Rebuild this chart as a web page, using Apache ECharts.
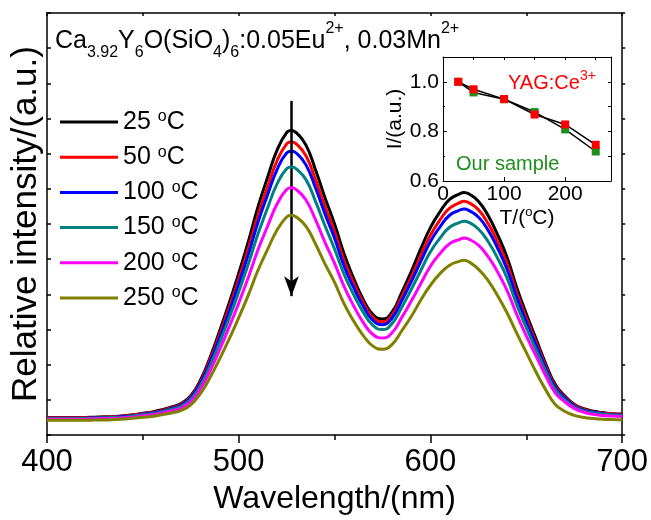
<!DOCTYPE html>
<html><head><meta charset="utf-8">
<script src="https://cdn.jsdelivr.net/npm/echarts@6/dist/echarts.min.js"></script>
<style>html,body{margin:0;padding:0;background:#fff}#c{width:651px;height:520px}</style>
</head><body><div id="c"></div>
<script>
// ---- data ----
const wavelength = [400,405,410,415,420,425,430,435,440,445,450,455,460,465,470,475,480,485,490,495,500,
  505,510,515,520,525,527.5,530,535,540,545,550,555,560,565,570,575,580,585,590,595,600,
  605,610,615,617.5,620,625,630,635,640,645,650,655,660,665,670,675,680,685,690,695,700];
const i25 = [0.50,0.50,0.50,0.50,0.50, 0.51,0.52,0.53,0.55,0.58,0.62,
  0.66,0.72,0.80,0.90,1.12,1.56,2.20,2.95,3.75,4.60,
  5.50,6.48,7.32,8.10,8.60,8.66,8.60,8.25,7.55,6.75,6.00,
  5.15,4.45,3.85,3.43,3.30,3.50,4.05,4.65,5.30,5.90,
  6.35,6.70,6.85,6.90,6.86,6.65,6.25,5.70,5.05,4.20,3.45,
  2.75,2.05,1.45,1.12,0.88,0.75,0.68,0.64,0.61,0.60];
const i50 = [0.49,0.49,0.49,0.49,0.49, 0.50,0.51,0.52,0.54,0.57,0.61,
  0.64,0.70,0.78,0.87,1.09,1.51,2.13,2.85,3.62,4.43,
  5.30,6.24,7.05,7.80,8.28,8.34,8.28,7.95,7.27,6.50,5.78,
  4.96,4.32,3.76,3.35,3.22,3.42,3.93,4.49,5.11,5.68,
  6.12,6.45,6.60,6.65,6.61,6.41,6.02,5.49,4.87,4.05,3.33,
  2.65,1.98,1.40,1.09,0.86,0.73,0.66,0.62,0.60,0.59];
const i100 = [0.48,0.48,0.48,0.48,0.48, 0.49,0.50,0.51,0.53,0.55,0.59,
  0.63,0.68,0.76,0.85,1.06,1.47,2.06,2.76,3.50,4.29,
  5.13,6.04,6.82,7.55,8.02,8.07,8.02,7.69,7.04,6.29,5.60,
  4.80,4.19,3.66,3.26,3.14,3.33,3.82,4.36,4.94,5.50,
  5.92,6.25,6.39,6.43,6.39,6.20,5.83,5.32,4.71,3.92,3.22,
  2.57,1.92,1.36,1.06,0.83,0.71,0.65,0.61,0.58,0.57];
const i150 = [0.47,0.47,0.47,0.47,0.47, 0.48,0.49,0.50,0.51,0.54,0.58,
  0.61,0.66,0.73,0.82,1.02,1.40,1.96,2.62,3.32,4.07,
  4.86,5.71,6.45,7.14,7.57,7.62,7.57,7.27,6.65,5.95,5.29,
  4.57,3.99,3.49,3.12,3.00,3.17,3.63,4.14,4.68,5.21,
  5.60,5.91,6.04,6.08,6.05,5.86,5.51,5.03,4.46,3.71,3.06,
  2.44,1.83,1.30,1.01,0.80,0.69,0.63,0.59,0.57,0.56];
const i200 = [0.45,0.45,0.45,0.45,0.45, 0.46,0.47,0.47,0.49,0.51,0.55,
  0.58,0.63,0.69,0.77,0.95,1.31,1.82,2.42,3.07,3.75,
  4.48,5.26,5.93,6.57,6.98,7.03,6.98,6.69,6.13,5.48,4.88,
  4.22,3.67,3.20,2.86,2.76,2.91,3.34,3.81,4.31,4.80,
  5.16,5.44,5.56,5.60,5.57,5.40,5.08,4.64,4.11,3.43,2.82,
  2.26,1.70,1.21,0.95,0.76,0.65,0.59,0.56,0.54,0.53];
const i250 = [0.42,0.42,0.42,0.42,0.42, 0.43,0.43,0.44,0.46,0.48,0.51,
  0.53,0.58,0.63,0.70,0.86,1.18,1.63,2.16,2.73,3.34,
  3.98,4.68,5.27,5.83,6.20,6.25,6.20,5.94,5.44,4.87,4.34,
  3.73,3.24,2.83,2.53,2.44,2.58,2.96,3.37,3.84,4.26,
  4.59,4.83,4.94,4.97,4.93,4.72,4.40,3.97,3.47,2.90,2.35,
  1.80,1.30,0.88,0.68,0.56,0.50,0.47,0.45,0.44,0.43];
const seriesNames = ['25 °C','50 °C','100 °C','150 °C','200 °C','250 °C'];
const arrowX = 527.5, arrowTop = 9.5, arrowBottom = 3.95;

const temps = [25,50,100,150,200,250];
const ourSample = [1.00,0.957,0.93,0.878,0.808,0.719];
const yagCe = [1.00,0.97,0.93,0.868,0.828,0.746];

// ---- styles ----
const F = '"Liberation Sans", Arial, Helvetica, sans-serif';
const colors = ['#000000','#ff0000','#0000ff','#008080','#ff00ff','#808000'];
const GREEN = '#1f8f1f';
const pair = (xs, ys) => xs.map((x, i) => [x, ys[i]]);
const spectra = [i25, i50, i100, i150, i200, i250];
const T = (size, lh, extra) => Object.assign({fontSize: size, lineHeight: lh, fontFamily: F, fontWeight: 'normal', color: '#000'}, extra || {});

const chart = echarts.init(document.getElementById('c'), null, {renderer: 'canvas'});

const mainSeries = spectra.map((d, i) => ({
  type: 'line', name: seriesNames[i], xAxisIndex: 0, yAxisIndex: 0,
  data: pair(wavelength, d), showSymbol: false, symbol: 'none',
  smooth: 0.5,
  lineStyle: {color: colors[i], width: 3}, itemStyle: {color: colors[i]},
  z: 2 + i
}));
mainSeries[5].markLine = {
  silent: true, symbol: ['none', 'arrow'], symbolSize: [11, 20],
  label: {show: false},
  lineStyle: {color: '#000', width: 2.5, type: 'solid'},
  emphasis: {disabled: true},
  data: [[{coord: [arrowX, arrowTop]}, {coord: [arrowX, arrowBottom]}]]
};

const axisLineS = {show: true, onZero: false, lineStyle: {color: '#000', width: 1.5}};
const insetLineS = {show: true, onZero: false, lineStyle: {color: '#000', width: 1}};

const option = {
  animation: false,
  backgroundColor: '#fff',
  title: [
    {
      text: '{m|Ca}{b|3.92}{m|Y}{b|6}{m|O(SiO}{b|4}{m|)}{b|6}{m|:0.05Eu}{t|2+}{m|, 0.03Mn}{t|2+}',
      left: 55, top: 21, padding: 0,
      textStyle: {fontWeight: 'normal', rich: {
        m: T(25, 40),
        b: T(16, 15, {verticalAlign: 'bottom'}),
        t: T(16, 25, {verticalAlign: 'top'})
      }}
    },
    {
      text: '{m|YAG:Ce}{t|3+}', left: 508, top: 69, padding: 0,
      textStyle: {fontWeight: 'normal', rich: {
        m: T(20, 28, {color: '#ff0000'}),
        t: T(14, 12, {verticalAlign: 'top', color: '#ff0000'})
      }}
    },
    {
      text: 'Our sample', left: 456, top: 152, padding: 0,
      textStyle: T(20, 24, {color: GREEN})
    }
  ],
  legend: {
    data: seriesNames, orient: 'vertical', left: 60, top: 109,
    icon: 'rect', itemWidth: 58, itemHeight: 3, itemGap: 9.7, selectedMode: false, padding: 0,
    formatter: n => '{n|' + n.split(' ')[0] + ' }{s|o}{n|C}',
    textStyle: {fontFamily: F, color: '#000', rich: {
      n: T(25, 26),
      s: T(16, 10, {verticalAlign: 'top'})
    }}
  },
  grid: [
    {left: 47, right: 28, top: 13, bottom: 77, containLabel: false},
    {left: 443, top: 57, width: 168, height: 124, containLabel: false}
  ],
  xAxis: [
    {
      gridIndex: 0, type: 'value', min: 400, max: 700, interval: 100, position: 'bottom',
      axisLine: axisLineS,
      axisTick: {show: true, inside: false, length: 8, lineStyle: {color: '#000', width: 1.5}},
      minorTick: {show: true, splitNumber: 2, length: 5, lineStyle: {color: '#000', width: 1.5}},
      splitLine: {show: false}, minorSplitLine: {show: false},
      axisLabel: {fontSize: 31, color: '#000', fontFamily: F, margin: 12},
      name: 'Wavelength/(nm)', nameLocation: 'middle', nameGap: 42,
      nameTextStyle: {fontSize: 32, color: '#000', fontFamily: F}
    },
    {
      gridIndex: 0, type: 'value', min: 400, max: 700, interval: 50, position: 'top',
      axisLine: axisLineS,
      axisTick: {show: true, inside: true, length: 3, lineStyle: {color: '#000', width: 1.5}},
      axisLabel: {show: false}, splitLine: {show: false}
    },
    {
      gridIndex: 1, type: 'value', min: 0, max: 275, interval: 100, position: 'bottom',
      axisLine: insetLineS,
      axisTick: {show: true, inside: true, length: 4, lineStyle: {color: '#000', width: 1}},
      splitLine: {show: false},
      axisLabel: {fontSize: 21, color: '#000', fontFamily: F, margin: 3, showMaxLabel: false},
      name: '{n|T/(}{s|o}{n|C)}', nameLocation: 'middle', nameGap: 24,
      nameTextStyle: {fontFamily: F, color: '#000', rich: {
        n: T(21, 24),
        s: T(13, 10, {verticalAlign: 'top'})
      }}
    },
    {
      gridIndex: 1, type: 'value', min: 0, max: 275, interval: 50, position: 'top',
      axisLine: insetLineS,
      axisTick: {show: true, inside: true, length: 3, lineStyle: {color: '#000', width: 1}},
      axisLabel: {show: false}, splitLine: {show: false}
    }
  ],
  yAxis: [
    {
      gridIndex: 0, type: 'value', min: 0, max: 12, interval: 1, position: 'left',
      axisLine: axisLineS,
      axisTick: {show: true, inside: true, length: 4, lineStyle: {color: '#000', width: 1.5}},
      axisLabel: {show: false}, splitLine: {show: false},
      name: 'Relative intensity/(a.u.)', nameLocation: 'middle', nameGap: 3,
      nameTextStyle: {fontSize: 35, color: '#000', fontFamily: F}
    },
    {
      gridIndex: 0, type: 'value', min: 0, max: 12, interval: 1, position: 'right',
      axisLine: axisLineS,
      axisTick: {show: true, inside: false, length: 3, lineStyle: {color: '#000', width: 1.5}},
      axisLabel: {show: false}, splitLine: {show: false}
    },
    {
      gridIndex: 1, type: 'value', min: 0.6, max: 1.1, interval: 0.2, position: 'left',
      axisLine: insetLineS,
      axisTick: {show: true, inside: true, length: 4, lineStyle: {color: '#000', width: 1}},
      minorTick: {show: true, splitNumber: 2, length: 2, lineStyle: {color: '#000', width: 1}},
      splitLine: {show: false}, minorSplitLine: {show: false},
      axisLabel: {fontSize: 21, color: '#000', fontFamily: F, margin: 4, showMaxLabel: false,
        formatter: v => v.toFixed(1)},
      name: 'I/(a.u.)', nameLocation: 'middle', nameGap: 30,
      nameTextStyle: {fontSize: 21, color: '#000', fontFamily: F}
    },
    {
      gridIndex: 1, type: 'value', min: 0.6, max: 1.1, interval: 0.1, position: 'right',
      axisLine: insetLineS,
      axisTick: {show: true, inside: true, length: 3, lineStyle: {color: '#000', width: 1}},
      axisLabel: {show: false}, splitLine: {show: false}
    }
  ],
  series: mainSeries.concat([
    {
      type: 'line', name: 'Our sample', xAxisIndex: 2, yAxisIndex: 2,
      data: pair(temps, ourSample), symbol: 'rect', symbolSize: 8, showSymbol: true,
      lineStyle: {color: '#000', width: 1.5}, itemStyle: {color: GREEN}, z: 10
    },
    {
      type: 'line', name: 'YAG:Ce3+', xAxisIndex: 2, yAxisIndex: 2,
      data: pair(temps, yagCe), symbol: 'rect', symbolSize: 8, showSymbol: true,
      lineStyle: {color: '#000', width: 1.5}, itemStyle: {color: '#ff0000'}, z: 11
    }
  ])
};
chart.setOption(option);
</script>
</body></html>
